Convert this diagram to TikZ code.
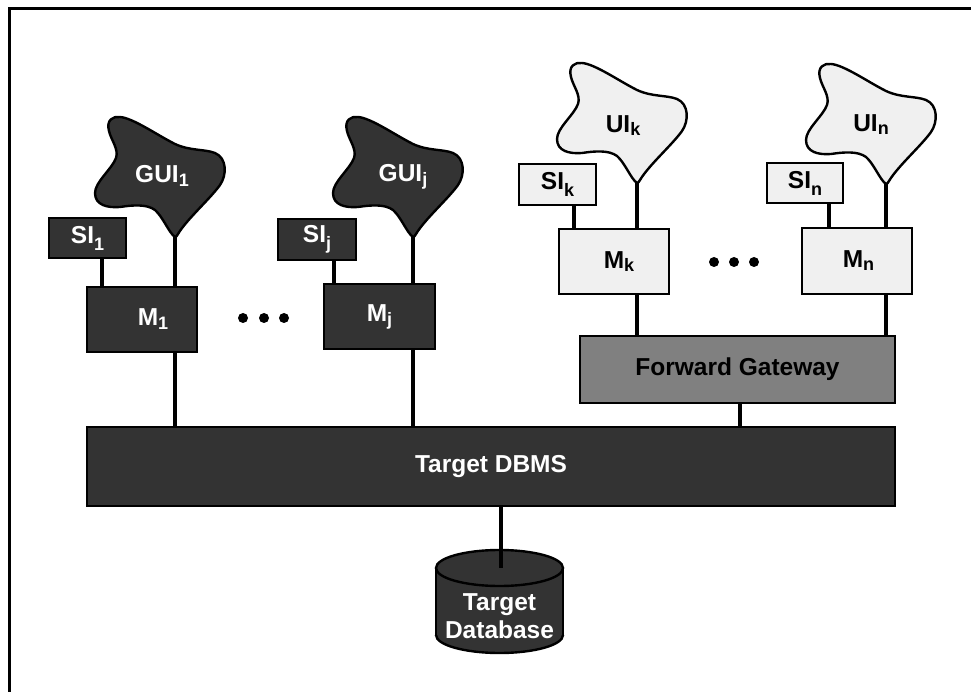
\documentclass[tikz,border=0pt]{standalone}
\usepackage{fontspec}
\setmainfont{Liberation Sans}
\definecolor{dk}{HTML}{333333}
\definecolor{lt}{HTML}{F0F0F0}
\definecolor{gw}{HTML}{808080}
\newcommand\lowsub[2][4pt]{\raisebox{-#1}{\fontsize{18}{18}\selectfont #2}}
\begin{document}
\begin{tikzpicture}[x=1pt,y=-1pt,
  lbl/.style={font=\fontsize{24.5}{28}\selectfont\bfseries, inner sep=0pt},
  box/.style={draw=black, line width=2.4pt, inner sep=0pt, lbl},
  darkbox/.style={box, fill=dk, text=white},
  lightbox/.style={box, fill=lt, text=black},
  link/.style={line width=3.2pt},
  blob/.pic={
    \path[pic actions, line width=2.4pt, line join=round]
      (0,0) .. controls (-6,-4) and (-12,-20) .. (-20,-27)
      .. controls (-28,-33) and (-42,-32) .. (-55,-30)
      .. controls (-68,-29) and (-80,-32) .. (-80,-44)
      .. controls (-80,-55) and (-63,-68) .. (-59,-79)
      .. controls (-56,-88) and (-64,-97) .. (-66,-106)
      .. controls (-69,-117) and (-62,-121) .. (-55,-120)
      .. controls (-42,-119) and (-18,-102) .. (0,-93)
      .. controls (15,-86) and (30,-88) .. (40,-84)
      .. controls (52,-79) and (52,-62) .. (45,-52)
      .. controls (35,-38) and (12,-18) .. (3,-3)
      .. controls (2,-1) and (1,0) .. (0,0) -- cycle;
    \coordinate (-tip) at (0,0);
  },
  dot/.style={circle, fill=black, inner sep=0pt, minimum size=10pt}
]
\useasboundingbox (0,0) rectangle (971,692);

% frame
\draw[line width=3pt] (9.5,692) -- (9.5,8.5) -- (971,8.5);

% clouds
\pic[draw, fill=dk] (g1) at (175,237) {blob};
\pic[draw, fill=dk] (gj) at (413,237) {blob};
\pic[draw, fill=lt] (uk) at (637,183) {blob};
\pic[draw, fill=lt] (un) at (886,184) {blob};
\node[lbl, text=white] (g1l) at (162,176) {GUI\lowsub{1}};
\node[lbl, text=white] (gjl) at (403,177) {GUI\lowsub{j}};
\node[lbl] (ukl) at (623,126) {UI\lowsub[3pt]{k}};
\node[lbl] (unl) at (871,125) {UI\lowsub[3pt]{n}};

% specification boxes
\node[darkbox, minimum width=77, minimum height=40] (si1) at (87.5,238) {SI\lowsub[7pt]{1}};
\node[darkbox, minimum width=78, minimum height=41] (sij) at (317,239.5) {SI\lowsub[7pt]{j}};
\node[lightbox, minimum width=77, minimum height=41] (sik) at (557.5,184.5) {SI\lowsub[7pt]{k}};
\node[lightbox, minimum width=76, minimum height=40] (sin) at (805,183) {SI\lowsub[7pt]{n}};

% modules
\node[darkbox, minimum width=110, minimum height=65] (m1) at (142,319.5) {\hspace{22pt}M\lowsub{1}};
\node[darkbox, minimum width=111, minimum height=65] (mj) at (379.5,316.5) {M\lowsub{j}};
\node[lightbox, minimum width=110, minimum height=65] (mk) at (614,261.5) {\hspace{10pt}M\lowsub[3pt]{k}};
\node[lightbox, minimum width=110, minimum height=66] (mn) at (857,261) {\hspace{3pt}M\lowsub[3pt]{n}};

% ellipses
\node[dot] (d1) at (243,318) {};
\node[dot] (d2) at (264,318) {};
\node[dot] (d3) at (284,318) {};
\node[dot] (d4) at (714,262) {};
\node[dot] (d5) at (734,262) {};
\node[dot] (d6) at (754,262) {};

% gateway and DBMS
\node[box, fill=gw, minimum width=315, minimum height=67] (fg) at (737.5,369.5) {Forward Gateway};
\node[darkbox, minimum width=808, minimum height=79] (dbms) at (491,466.5) {Target DBMS};

% database cylinder
\fill[dk] (436,568) rectangle (563,635);
\fill[dk] (499.5,635) ellipse[x radius=63.5pt, y radius=18pt];
\begin{scope}
  \clip (420,635) rectangle (580,665);
  \draw[line width=2.4pt] (499.5,635) ellipse[x radius=63.5pt, y radius=18pt];
\end{scope}
\draw[line width=2.4pt] (436,568) -- (436,635) (563,568) -- (563,635);
\draw[line width=2.4pt, fill=dk] (499.5,568) ellipse[x radius=63.5pt, y radius=18pt];
\coordinate (dbtop) at (501,568);
\node[lbl, text=white, align=center] (db) at (499.5,616) {Target\\Database};

% connectors
\draw[link] ([xshift=14.5pt]si1.south) -- ([xshift=14.5pt]si1.south |- m1.north);
\draw[link] ([xshift=17pt]sij.south) -- ([xshift=17pt]sij.south |- mj.north);
\draw[link] ([xshift=16.5pt]sik.south) -- ([xshift=16.5pt]sik.south |- mk.north);
\draw[link] ([xshift=24pt]sin.south) -- ([xshift=24pt]sin.south |- mn.north);
\draw[link] (g1-tip) -- (g1-tip |- m1.north);
\draw[link] (gj-tip) -- (gj-tip |- mj.north);
\draw[link] (uk-tip) -- (uk-tip |- mk.north);
\draw[link] (un-tip) -- (un-tip |- mn.north);
\draw[link] (g1-tip |- m1.south) -- (g1-tip |- dbms.north);
\draw[link] (gj-tip |- mj.south) -- (gj-tip |- dbms.north);
\draw[link] (uk-tip |- mk.south) -- (uk-tip |- fg.north);
\draw[link] (un-tip |- mn.south) -- (un-tip |- fg.north);
\draw[link] ([xshift=2.5pt]fg.south) -- ([xshift=2.5pt]fg.south |- dbms.north);
\draw[link] (dbtop |- dbms.south) -- (dbtop);
\end{tikzpicture}
\end{document}
